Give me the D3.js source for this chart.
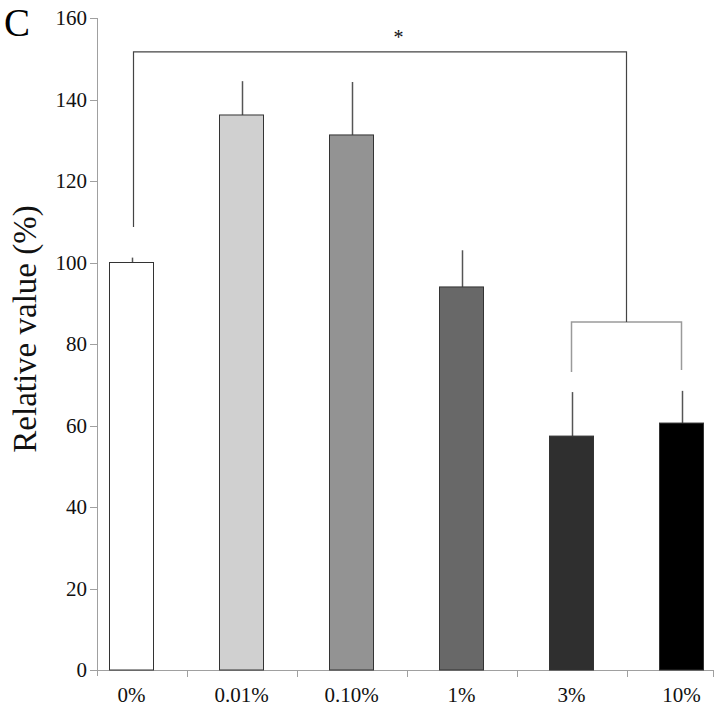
<!DOCTYPE html>
<html><head><meta charset="utf-8">
<script src="https://cdn.jsdelivr.net/npm/d3@7"></script>
<style>body{margin:0;background:#fff}svg{display:block}</style>
</head><body>
<script>
const categories = ["0%", "0.01%", "0.10%", "1%", "3%", "10%"];
const values = [100, 136.2, 131.3, 94, 57.4, 60.6];
const errors = [1.2, 8.3, 13, 9, 10.8, 7.9];
const fills = ["#ffffff", "#d0d0d0", "#939393", "#686868", "#2f2f2f", "#000000"];
const yTicks = [0, 20, 40, 60, 80, 100, 120, 140, 160];
// significance brackets (values in y units)
const bigBracket = {from: "0%", leftBottom: 108.7, top: 151.7};
const smallBracket = {from: "3%", to: "10%", top: 85.4, leftBottom: 73.1, rightBottom: 73.6};

const W = 718, H = 707;
const svg = d3.select("body").append("svg").attr("width", W).attr("height", H);

const y = d3.scaleLinear().domain([0, 160]).range([670, 18]);
const x = d3.scaleBand().domain(categories).range([76.5, 736.5]).padding(0);
const bw = x.bandwidth() * 0.4;
const cx = c => x(c) + x.bandwidth() / 2;

const serif = "'Liberation Serif','Times New Roman',serif";

// y axis
svg.append("line").attr("x1", 97.5).attr("x2", 97.5).attr("y1", 18).attr("y2", 676).attr("stroke", "#a0a0a0");
svg.selectAll(".yt").data(yTicks).enter().append("line")
  .attr("x1", 90).attr("x2", 97.5).attr("y1", d => Math.round(y(d)) + 0.5).attr("y2", d => Math.round(y(d)) + 0.5)
  .attr("stroke", "#a0a0a0");
svg.selectAll(".yl").data(yTicks).enter().append("text")
  .attr("x", 87).attr("y", d => y(d) + 7).attr("text-anchor", "end")
  .attr("font-family", serif).attr("font-size", 21).attr("fill", "#111").text(d => d);

// x axis
svg.append("line").attr("x1", 97).attr("x2", 713).attr("y1", 670.5).attr("y2", 670.5).attr("stroke", "#a0a0a0");
const xt = categories.slice(1).map(c => x(c)).concat([713]);
svg.selectAll(".xt").data(xt).enter().append("line")
  .attr("x1", d => Math.round(d) + 0.5).attr("x2", d => Math.round(d) + 0.5).attr("y1", 670).attr("y2", 677)
  .attr("stroke", "#a0a0a0");
svg.selectAll(".xl").data(categories).enter().append("text")
  .attr("x", d => cx(d)).attr("y", 702).attr("text-anchor", "middle")
  .attr("font-family", serif).attr("font-size", 21).attr("fill", "#111").text(d => d);

// error bars
svg.selectAll(".err").data(categories).enter().append("line")
  .attr("x1", d => Math.round(cx(d)) + 0.5).attr("x2", d => Math.round(cx(d)) + 0.5)
  .attr("y1", (d, i) => y(values[i])).attr("y2", (d, i) => y(values[i] + errors[i]))
  .attr("stroke", "#555").attr("stroke-width", 1.5);

// bars
svg.selectAll(".bar").data(categories).enter().append("rect")
  .attr("x", d => cx(d) - bw / 2).attr("width", bw)
  .attr("y", (d, i) => y(values[i])).attr("height", (d, i) => y(0) - y(values[i]))
  .attr("fill", (d, i) => fills[i]).attr("stroke", "#333").attr("stroke-width", 1);

// small bracket
const sl = cx(smallBracket.from), sr = cx(smallBracket.to), sm = (sl + sr) / 2;
svg.append("path")
  .attr("d", `M${sl},${y(smallBracket.leftBottom)}V${y(smallBracket.top)}H${sr}V${y(smallBracket.rightBottom)}`)
  .attr("fill", "none").attr("stroke", "#9a9a9a").attr("stroke-width", 1.5);

// big bracket
const bl = cx(bigBracket.from) + 2;
svg.append("path")
  .attr("d", `M${bl},${y(bigBracket.leftBottom)}V${y(bigBracket.top)}H${sm}V${y(smallBracket.top)}`)
  .attr("fill", "none").attr("stroke", "#444").attr("stroke-width", 1.2);

// star
svg.append("text").attr("x", (cx("0.10%") + cx("1%")) / 2 - 8).attr("y", 44)
  .attr("text-anchor", "middle").attr("font-family", serif).attr("font-size", 20).attr("fill", "#111").text("*");

// panel label
svg.append("text").attr("x", 4).attr("y", 36).attr("font-family", serif).attr("font-size", 39).attr("fill", "#000").text("C");

// y title
svg.append("text").attr("transform", "translate(36,329) rotate(-90)").attr("text-anchor", "middle")
  .attr("font-family", serif).attr("font-size", 33).attr("fill", "#111").text("Relative value (%)");
</script>
</body></html>
